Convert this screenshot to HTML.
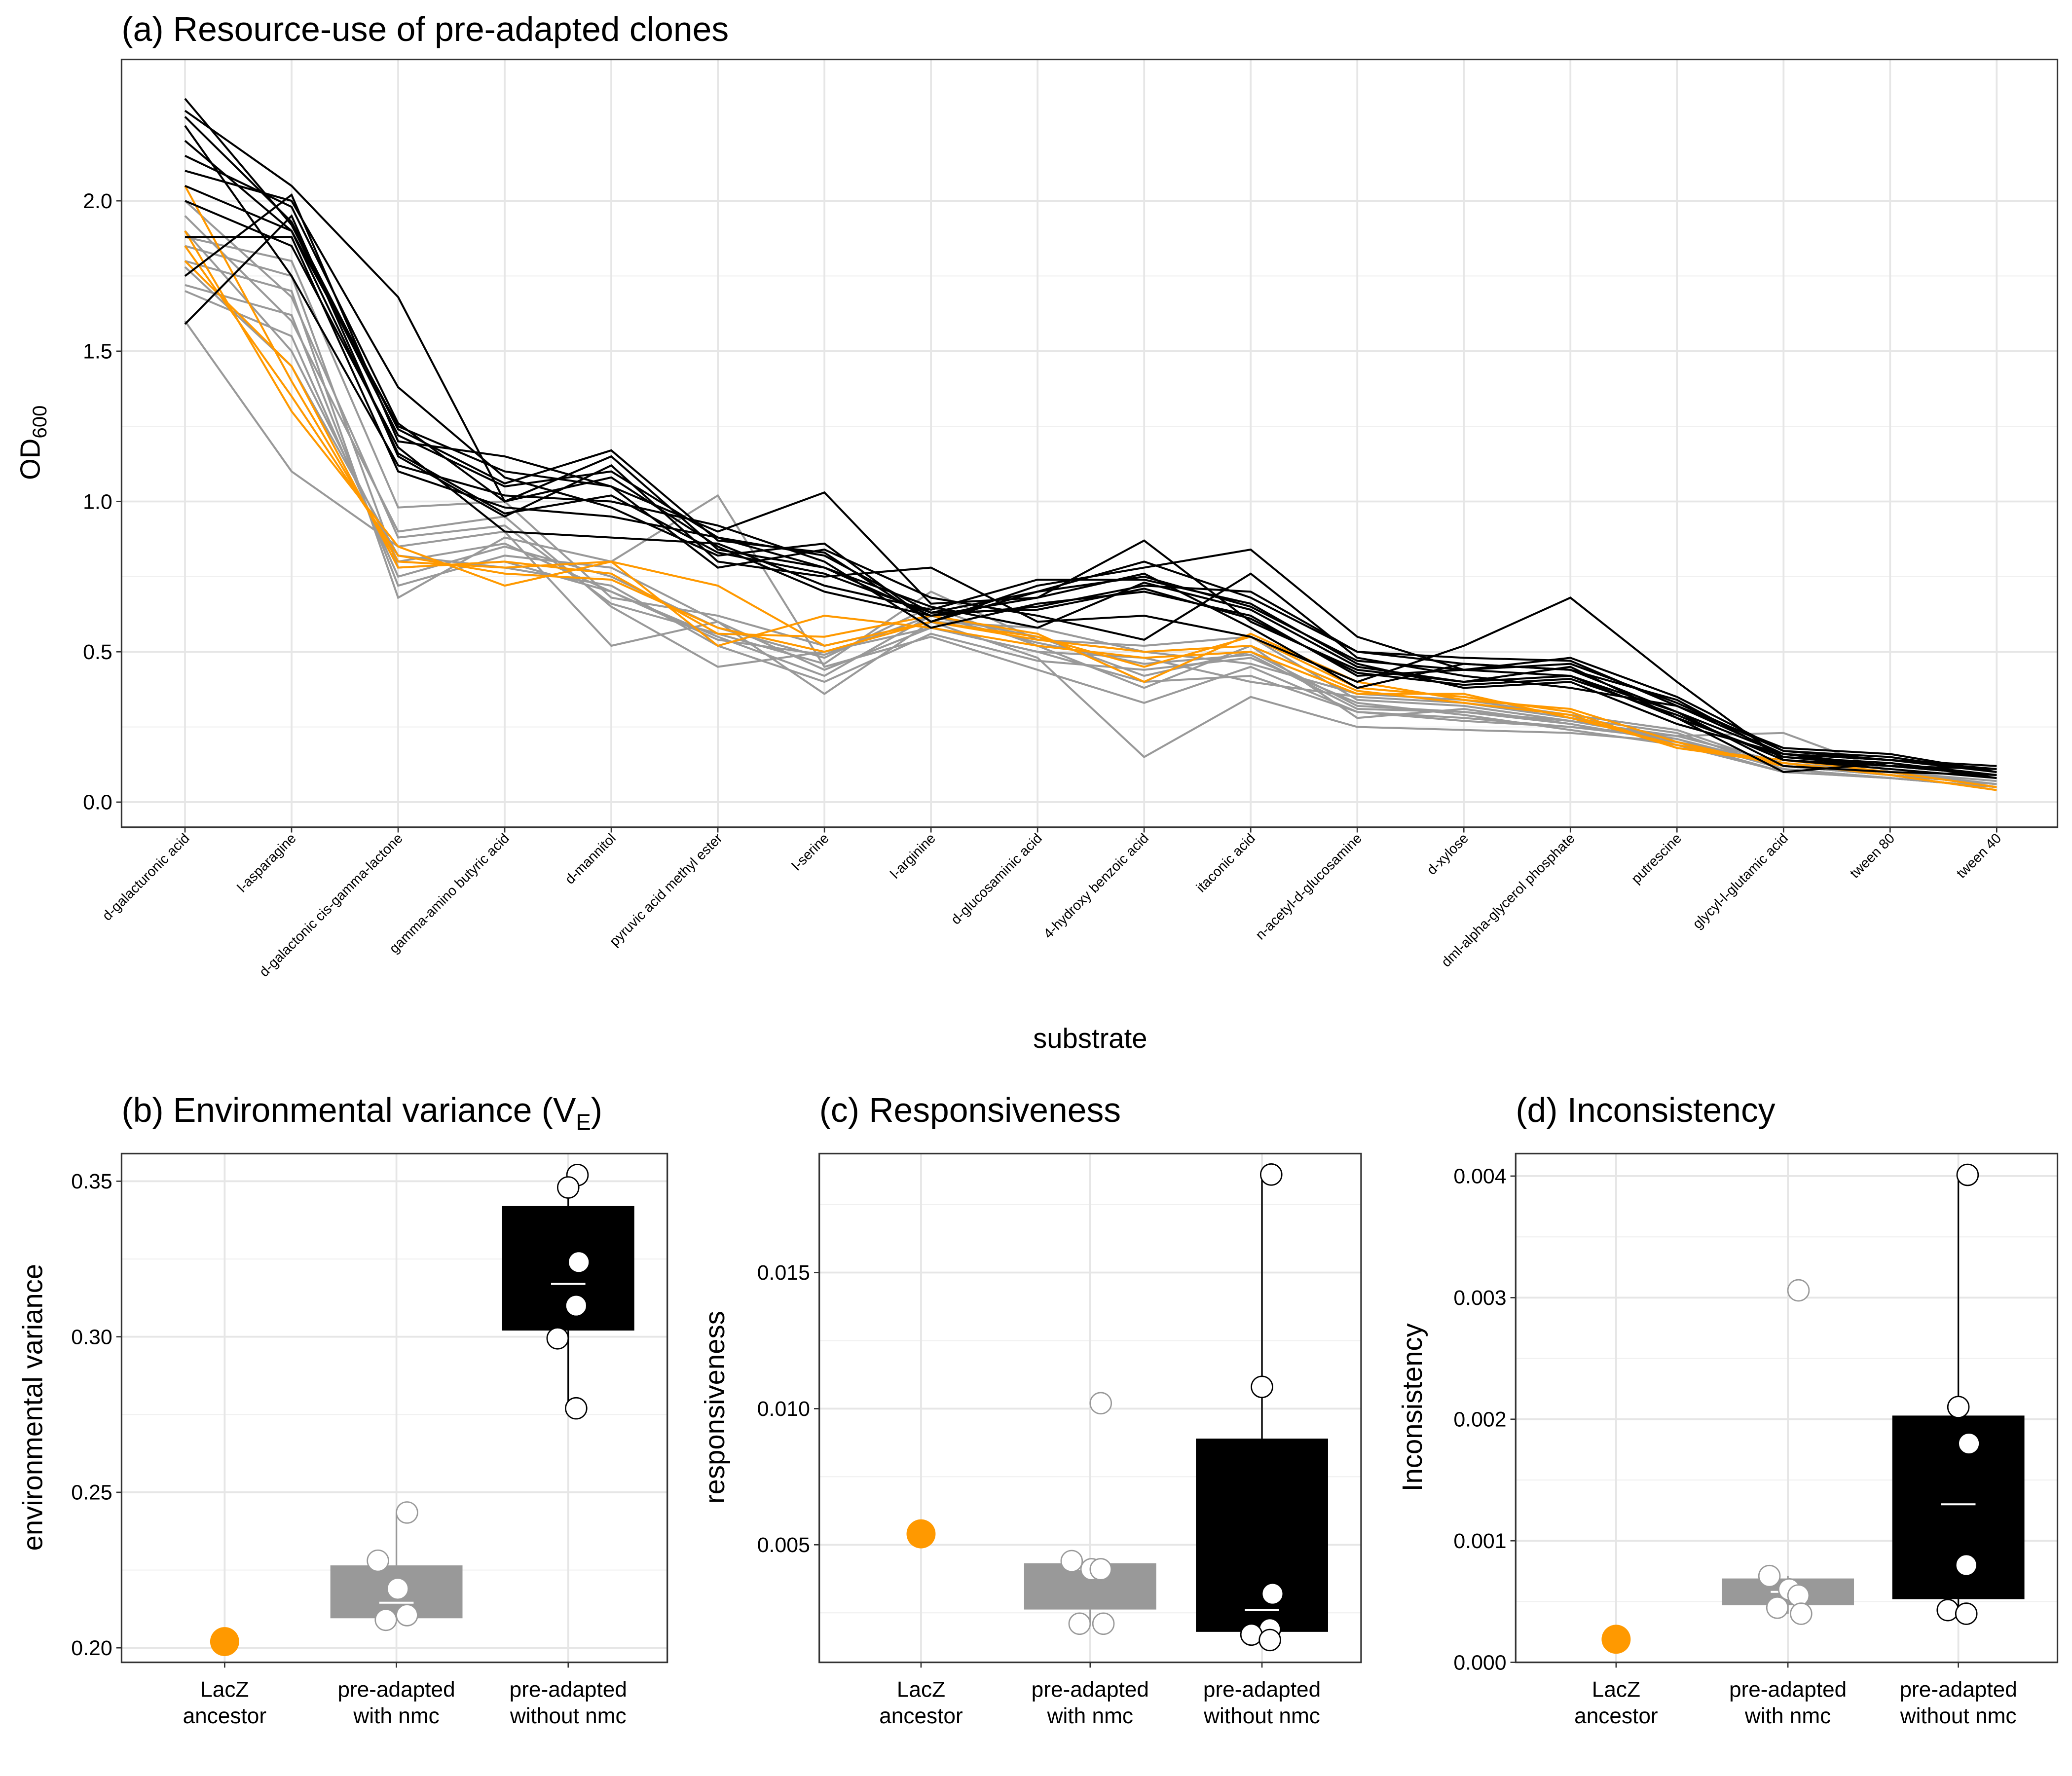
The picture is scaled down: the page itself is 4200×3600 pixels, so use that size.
<!DOCTYPE html>
<html><head><meta charset="utf-8">
<style>
html,body{margin:0;padding:0;background:#fff}
svg{display:block}
text{font-family:"Liberation Sans",sans-serif;fill:#000}
</style></head>
<body>
<svg id="fig" width="4200" height="3600" viewBox="0 0 1568 1344" xmlns="http://www.w3.org/2000/svg">
<rect width="1568" height="1344" fill="#fff"/>
<text x="92" y="31" font-size="26">(a) Resource-use of pre-adapted clones</text>
<text x="92" y="849" font-size="26">(b) Environmental variance (V<tspan font-size="17" dy="6">E</tspan><tspan dy="-6">)</tspan></text>
<text x="620" y="849" font-size="26">(c) Responsiveness</text>
<text x="1147" y="849" font-size="26">(d) Inconsistency</text>
<text x="825" y="793" font-size="21" text-anchor="middle">substrate</text>
<text transform="translate(30,335) rotate(-90)" font-size="21" text-anchor="middle">OD<tspan font-size="15" dy="5">600</tspan></text>
<text transform="translate(32,1065) rotate(-90)" font-size="21" text-anchor="middle">environmental variance</text>
<text transform="translate(548,1065) rotate(-90)" font-size="21" text-anchor="middle">responsiveness</text>
<text transform="translate(1076,1065) rotate(-90)" font-size="21" text-anchor="middle">Inconsistency</text>
</svg>
<script>
const substrates=["d-galacturonic acid","l-asparagine","d-galactonic cis-gamma-lactone","gamma-amino butyric acid","d-mannitol","pyruvic acid methyl ester","l-serine","l-arginine","d-glucosaminic acid","4-hydroxy benzoic acid","itaconic acid","n-acetyl-d-glucosamine","d-xylose","dml-alpha-glycerol phosphate","putrescine","glycyl-l-glutamic acid","tween 80","tween 40"];
const yTicksA=[0,0.5,1,1.5,2];
const blackLines=[
[2.34,1.92,1.22,1.05,1.10,0.88,0.82,0.63,0.70,0.75,0.65,0.47,0.44,0.46,0.33,0.17,0.14,0.10],
[2.30,2.05,1.68,1.00,1.15,0.84,0.78,0.62,0.65,0.72,0.70,0.50,0.46,0.44,0.30,0.16,0.12,0.11],
[2.20,1.90,1.25,1.10,1.05,0.90,1.03,0.66,0.68,0.87,0.60,0.44,0.40,0.42,0.28,0.15,0.13,0.09],
[2.10,2.00,1.38,1.08,0.98,0.82,0.86,0.60,0.72,0.78,0.84,0.55,0.44,0.48,0.35,0.17,0.15,0.10],
[1.59,1.95,1.15,0.95,1.12,0.80,0.75,0.78,0.60,0.62,0.55,0.40,0.52,0.68,0.40,0.14,0.11,0.08],
[2.00,1.85,1.18,0.90,0.88,0.86,0.72,0.64,0.74,0.74,0.66,0.46,0.38,0.40,0.26,0.16,0.14,0.12],
[2.25,1.75,1.12,1.02,1.00,0.92,0.80,0.58,0.66,0.70,0.62,0.42,0.44,0.42,0.30,0.12,0.10,0.09],
[1.75,2.02,1.20,1.15,1.05,0.78,0.84,0.68,0.62,0.54,0.76,0.48,0.42,0.38,0.32,0.18,0.16,0.10],
[2.15,1.98,1.26,1.00,1.08,0.85,0.70,0.62,0.68,0.76,0.58,0.38,0.46,0.44,0.34,0.15,0.12,0.09],
[1.88,1.88,1.10,0.98,0.95,0.88,0.78,0.65,0.58,0.73,0.64,0.45,0.40,0.45,0.28,0.10,0.13,0.08],
[2.28,1.93,1.24,1.06,1.17,0.87,0.83,0.60,0.70,0.80,0.68,0.50,0.48,0.47,0.32,0.16,0.14,0.11],
[2.05,1.90,1.16,0.96,1.02,0.83,0.76,0.63,0.64,0.71,0.61,0.43,0.39,0.41,0.29,0.14,0.12,0.09]];
const grayLines=[
[1.60,1.10,0.85,0.90,0.52,0.60,0.36,0.60,0.48,0.15,0.35,0.25,0.24,0.23,0.20,0.10,0.08,0.05],
[1.80,1.70,0.68,0.88,0.80,1.02,0.45,0.55,0.44,0.33,0.45,0.30,0.28,0.25,0.22,0.23,0.10,0.06],
[1.85,1.75,0.78,0.80,0.70,0.55,0.42,0.62,0.55,0.42,0.50,0.32,0.30,0.27,0.21,0.12,0.09,0.06],
[1.95,1.60,0.90,0.95,0.65,0.45,0.50,0.58,0.50,0.48,0.40,0.35,0.33,0.28,0.23,0.11,0.08,0.05],
[1.70,1.55,0.75,0.85,0.75,0.58,0.48,0.65,0.52,0.38,0.52,0.28,0.31,0.26,0.20,0.13,0.10,0.07],
[1.88,1.80,0.98,1.00,0.68,0.62,0.52,0.60,0.58,0.50,0.46,0.36,0.34,0.29,0.24,0.12,0.09,0.06],
[1.78,1.45,0.82,0.78,0.72,0.52,0.40,0.56,0.47,0.44,0.48,0.33,0.29,0.24,0.19,0.10,0.08,0.05],
[2.00,1.68,0.88,0.92,0.66,0.56,0.46,0.70,0.54,0.52,0.55,0.34,0.32,0.27,0.22,0.13,0.09,0.06],
[1.72,1.62,0.72,0.82,0.78,0.60,0.44,0.58,0.50,0.40,0.42,0.30,0.27,0.25,0.21,0.11,0.08,0.05],
[1.90,1.50,0.80,0.86,0.70,0.54,0.49,0.62,0.53,0.46,0.49,0.31,0.30,0.26,0.20,0.12,0.09,0.06]];
const orangeLines=[
[2.05,1.40,0.80,0.78,0.80,0.72,0.52,0.60,0.55,0.45,0.55,0.38,0.35,0.30,0.18,0.14,0.10,0.05],
[1.90,1.30,0.85,0.72,0.80,0.52,0.62,0.58,0.52,0.48,0.50,0.36,0.36,0.28,0.19,0.13,0.09,0.04],
[1.80,1.45,0.78,0.80,0.76,0.56,0.55,0.62,0.56,0.40,0.56,0.40,0.34,0.31,0.20,0.12,0.10,0.05],
[1.85,1.35,0.82,0.76,0.74,0.58,0.50,0.60,0.54,0.50,0.52,0.37,0.33,0.29,0.18,0.13,0.09,0.04]];
const groups=["LacZ\nancestor","pre-adapted\nwith nmc","pre-adapted\nwithout nmc"];
// panel b
const veAncestor=0.202;
const veBoxWith=[0.2095,0.2145,0.2265,0.209,0.2435];
const veBoxWithout=[0.302,0.317,0.342,0.277,0.352];
const vePtsWith=[0.2435,0.228,0.219,0.2105,0.209];
const vePtsWithout=[0.352,0.348,0.324,0.310,0.2995,0.277];
const veTicks=[0.20,0.25,0.30,0.35];
// panel c
const rAncestor=0.0054;
const rBoxWith=[0.00262,0.0041,0.00432,0.0021,0.0044];
const rBoxWithout=[0.0018,0.0026,0.0089,0.0015,0.0186];
const rPtsWith=[0.0102,0.0044,0.0041,0.0041,0.0021,0.0021];
const rPtsWithout=[0.0186,0.0108,0.0032,0.0019,0.0017,0.0015];
const rTicks=[0.005,0.010,0.015];
// panel d
const iAncestor=0.00019;
const iBoxWith=[0.00047,0.00058,0.00069,0.0004,0.00071];
const iBoxWithout=[0.00052,0.0013,0.00203,0.0004,0.00401];
const iPtsWith=[0.00306,0.00071,0.0006,0.00055,0.00045,0.0004];
const iPtsWithout=[0.00401,0.0021,0.0018,0.0008,0.00043,0.0004];
const iTicks=[0,0.001,0.002,0.003,0.004];

const NS="http://www.w3.org/2000/svg";
const svg=document.getElementById('fig');
function el(tag,attrs,parent){const e=document.createElementNS(NS,tag);for(const k in attrs)e.setAttribute(k,attrs[k]);(parent||svg).appendChild(e);return e;}
function fmt(v,d){return v.toFixed(d);}

// ---- Panel A
const A={x0:92,x1:1557,y0:45,y1:626};
const xA=i=>140+i*(1511-140)/17;
const yA=v=>607-v*227.5;
let gA=el('g',{});


el('rect',{x:A.x0,y:A.y0,width:A.x1-A.x0,height:A.y1-A.y0,fill:'#fff'},gA);
for(let k=0;k<yTicksA.length-1;k++){const v=(yTicksA[k]+yTicksA[k+1])/2;el('line',{x1:A.x0,x2:A.x1,y1:yA(v),y2:yA(v),stroke:'#f0f0f0','stroke-width':0.8},gA);}
yTicksA.forEach(v=>{el('line',{x1:A.x0,x2:A.x1,y1:yA(v),y2:yA(v),stroke:'#e6e6e6','stroke-width':1.4},gA);
 el('line',{x1:A.x0-4,x2:A.x0,y1:yA(v),y2:yA(v),stroke:'#333','stroke-width':1},gA);
 const t=el('text',{x:A.x0-7,y:yA(v)+5.5,'font-size':16,'text-anchor':'end',fill:'#4d4d4d'},gA);t.textContent=fmt(v,1);
 });
substrates.forEach((s,i)=>{el('line',{x1:xA(i),x2:xA(i),y1:A.y0,y2:A.y1,stroke:'#e6e6e6','stroke-width':1.4},gA);
 el('line',{x1:xA(i),x2:xA(i),y1:A.y1,y2:A.y1+4,stroke:'#333','stroke-width':1},gA);
 const t=el('text',{transform:`translate(${xA(i)+4},${A.y1+9}) rotate(-45)`,'font-size':10.5,'text-anchor':'end',fill:'#4d4d4d'},gA);t.textContent=s;
 });
function drawLines(arr,color,name){arr.forEach(d=>{const p=el('polyline',{points:d.map((v,i)=>xA(i)+','+yA(v)).join(' '),fill:'none',stroke:color,'stroke-width':1.5},gA);
 });}
drawLines(grayLines,'#999999','line-pre-adapted-with-nmc');
drawLines(orangeLines,'#ff9900','line-lacz-ancestor');
drawLines(blackLines,'#000000','line-pre-adapted-without-nmc');
el('rect',{x:A.x0,y:A.y0,width:A.x1-A.x0,height:A.y1-A.y0,fill:'none',stroke:'#333','stroke-width':1.2},gA);

// ---- Box panels
function panel(cfg){
 const {x0,x1,y0,y1,cats,yf,ticks,dec,minor,anc,bw,bwo,pw,pwo,name}=cfg;
 const g=el('g',{});
 
 
 minor.forEach(v=>el('line',{x1:x0,x2:x1,y1:yf(v),y2:yf(v),stroke:'#f0f0f0','stroke-width':0.8},g));
 ticks.forEach(v=>{el('line',{x1:x0,x2:x1,y1:yf(v),y2:yf(v),stroke:'#e6e6e6','stroke-width':1.4},g);
  el('line',{x1:x0-4,x2:x0,y1:yf(v),y2:yf(v),stroke:'#333'},g);
  const t=el('text',{x:x0-7,y:yf(v)+5.5,'font-size':16,'text-anchor':'end',fill:'#4d4d4d'},g);t.textContent=fmt(v,dec);
  });
 cats.forEach((c,i)=>{el('line',{x1:c,x2:c,y1:y0,y2:y1,stroke:'#e6e6e6','stroke-width':1.4},g);
  el('line',{x1:c,x2:c,y1:y1,y2:y1+4,stroke:'#333'},g);
  const lines=groups[i].split('\n');
  lines.forEach((l,j)=>{const t=el('text',{x:c,y:y1+26+j*20,'font-size':16.5,'text-anchor':'middle',fill:'#4d4d4d'},g);t.textContent=l;
   });});
 function box(b,cx,fill){
  el('line',{x1:cx,x2:cx,y1:yf(b[3]),y2:yf(b[0]),stroke:fill==='#000'?'#000':'#999','stroke-width':1.2},g);
  el('line',{x1:cx,x2:cx,y1:yf(b[2]),y2:yf(b[4]),stroke:fill==='#000'?'#000':'#999','stroke-width':1.2},g);
  const r=el('rect',{x:cx-50,y:yf(b[2]),width:100,height:yf(b[0])-yf(b[2]),fill:fill},g);
  
  el('line',{x1:cx-13,x2:cx+13,y1:yf(b[1]),y2:yf(b[1]),stroke:'#fff','stroke-width':1.5},g);
 }
 box(bw,cats[1],'#999');
 box(bwo,cats[2],'#000');
 const jw=[8,-14,1,8,-8,10],jwo=[7,0,8,6,-8,6];
 pw.forEach((v,k)=>{const c=el('circle',{cx:cats[1]+jw[k%6],cy:yf(v),r:8,fill:'#fff',stroke:'#999','stroke-width':1},g);
  });
 pwo.forEach((v,k)=>{const c=el('circle',{cx:cats[2]+jwo[k%6],cy:yf(v),r:8,fill:'#fff',stroke:'#000','stroke-width':1},g);
  });
 const a=el('circle',{cx:cats[0],cy:yf(anc),r:11,fill:'#ff9900'},g);
 
 el('rect',{x:x0,y:y0,width:x1-x0,height:y1-y0,fill:'none',stroke:'#333','stroke-width':1.2},g);
}
panel({name:'panel-b-plot',x0:92,x1:505,y0:873,y1:1258,cats:[170,300,430],yf:v=>1247-(v-0.20)/0.05*117.7,ticks:veTicks,dec:2,minor:[0.225,0.275,0.325],anc:veAncestor,bw:veBoxWith,bwo:veBoxWithout,pw:vePtsWith,pwo:vePtsWithout});
panel({name:'panel-c-plot',x0:620,x1:1030,y0:873,y1:1258,cats:[697,825,955],yf:v=>1169-(v-0.005)/0.005*103,ticks:rTicks,dec:3,minor:[0.0025,0.0075,0.0125,0.0175],anc:rAncestor,bw:rBoxWith,bwo:rBoxWithout,pw:rPtsWith,pwo:rPtsWithout});
panel({name:'panel-d-plot',x0:1147,x1:1557,y0:873,y1:1258,cats:[1223,1353,1482],yf:v=>1258-v/0.001*92,ticks:iTicks,dec:3,minor:[0.0005,0.0015,0.0025,0.0035],anc:iAncestor,bw:iBoxWith,bwo:iBoxWithout,pw:iPtsWith,pwo:iPtsWithout});
</script>
</body></html>
